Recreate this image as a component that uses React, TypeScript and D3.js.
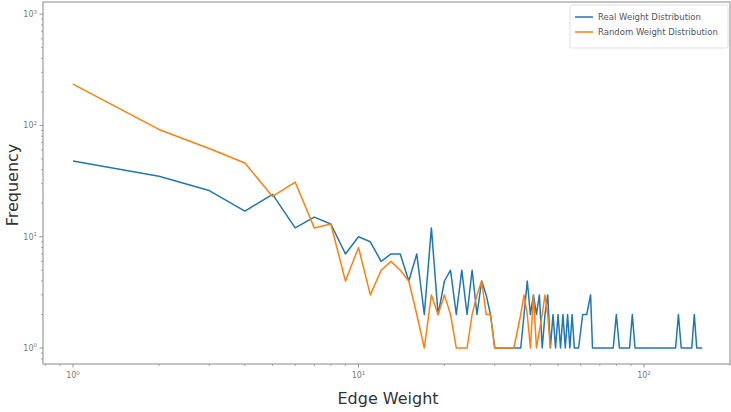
import React from "react";
import * as d3 from "d3";

// Edge weight -> frequency, observed network
const realWeights = [1, 2, 3, 4, 5, 6, 7, 8, 9, 10, 11, 12, 13, 14, 15, 16, 17, 18, 19, 20, 21, 22, 23, 24, 25, 26, 27, 28, 29, 30, 31, 33, 35, 37, 38, 39, 40, 41, 42, 43, 44, 45, 46, 47, 48, 49, 50, 51, 52, 53, 54, 55, 56, 57, 59, 61, 63, 65, 66, 70, 75, 78, 80, 82, 86, 89, 91, 93, 100, 110, 120, 129, 132, 135, 140, 147, 150, 153, 160];
const realCounts = [48, 35, 26, 17, 24, 12, 15, 13, 7, 10, 9, 6, 7, 7, 4, 7, 2, 12, 2, 4, 5, 2, 5, 2, 5, 2, 4, 3, 2, 1, 1, 1, 1, 1, 2, 4, 2, 3, 2, 3, 1, 2, 3, 1, 2, 1, 2, 1, 2, 1, 2, 1, 2, 1, 1, 2, 2, 3, 1, 1, 1, 1, 2, 1, 1, 1, 2, 1, 1, 1, 1, 1, 2, 1, 1, 1, 2, 1, 1];

// Edge weight -> frequency, randomised network
const randomWeights = [1, 2, 3, 4, 5, 6, 7, 8, 9, 10, 11, 12, 13, 14, 15, 16, 17, 18, 19, 20, 21, 22, 23, 24, 25, 26, 27, 28, 29, 30, 31, 33, 35, 37, 38, 39, 40, 41, 42, 44, 45, 46, 47];
const randomCounts = [235, 92, 62, 46, 23, 31, 12, 13, 4, 8, 3, 5, 6, 5, 4, 2, 1, 3, 2, 3, 2, 1, 1, 1, 2, 3, 4, 2, 2, 1, 1, 1, 1, 2, 3, 2, 1, 3, 1, 2, 3, 2, 1];

const seriesNames = ["Real Weight Distribution", "Random Weight Distribution"];
const seriesColors = ["#1f77b4", "#ff7f0e"];

const xMajorTicks = [1, 10, 100];
const yMajorTicks = [1, 10, 100, 1000];
const tickExponents = ["0", "1", "2", "3"];

const W = 731;
const H = 412;
const left = 43;
const right = 731;
const top = 2;
const bottom = 364;

const x = d3.scaleLog().domain([Math.pow(10, -0.1051), Math.pow(10, 2.3047)]).range([left, right]);
const y = d3.scaleLog().domain([Math.pow(10, -0.1438), Math.pow(10, 3.109)]).range([bottom, top]);

function minorTicks(scale: d3.ScaleLogarithmic<number, number>) {
  const [a, b] = scale.domain();
  const out: number[] = [];
  for (let e = -1; e <= 3; e++) {
    for (let m = 2; m <= 9; m++) {
      const v = m * Math.pow(10, e);
      if (v >= a && v <= b) out.push(v);
    }
  }
  return out;
}

const line = d3
  .line<[number, number]>()
  .x((d) => x(d[0]))
  .y((d) => y(d[1]));

const series = [
  d3.zip(realWeights, realCounts) as [number, number][],
  d3.zip(randomWeights, randomCounts) as [number, number][],
];

const spine = "#b0b0b0";
const tickColor = "#888";
const font = "DejaVu Sans, sans-serif";

function Pow({ exp, ...rest }: { exp: string } & React.SVGProps<SVGTextElement>) {
  return (
    <text {...rest} fontFamily={font} fontSize={8} fill="#777">
      10
      <tspan dy={-3.5} fontSize={5.5}>
        {exp}
      </tspan>
    </text>
  );
}

export default function App() {
  return (
    <svg
      width={W}
      height={H}
      style={{ position: "absolute", left: 0, top: 0, background: "#fff" }}
    >
      <rect x={0} y={0} width={W} height={H} fill="#fff" />

      {/* data lines */}
      <g clipPath="url(#plotClip)">
        {series.map((s, i) => (
          <path
            key={i}
            d={line(s) || ""}
            fill="none"
            stroke={seriesColors[i]}
            strokeWidth={1.5}
            strokeLinejoin="round"
          />
        ))}
      </g>
      <defs>
        <clipPath id="plotClip">
          <rect x={left} y={top} width={right - left} height={bottom - top} />
        </clipPath>
      </defs>

      {/* spines */}
      <rect
        x={left}
        y={top}
        width={right - left - 1}
        height={bottom - top}
        fill="none"
        stroke={spine}
        strokeWidth={1.5}
      />

      {/* x ticks */}
      {minorTicks(x).map((v) => (
        <line key={"xm" + v} x1={x(v)} x2={x(v)} y1={bottom} y2={bottom + 2} stroke={tickColor} strokeWidth={0.7} />
      ))}
      {xMajorTicks.map((v, i) => (
        <g key={"xM" + v}>
          <line x1={x(v)} x2={x(v)} y1={bottom} y2={bottom + 3.5} stroke={tickColor} strokeWidth={0.9} />
          <Pow exp={tickExponents[i]} x={x(v)} y={bottom + 14} textAnchor="middle" />
        </g>
      ))}

      {/* y ticks */}
      {minorTicks(y).map((v) => (
        <line key={"ym" + v} x1={left - 2} x2={left} y1={y(v)} y2={y(v)} stroke={tickColor} strokeWidth={0.7} />
      ))}
      {yMajorTicks.map((v, i) => (
        <g key={"yM" + v}>
          <line x1={left - 3.5} x2={left} y1={y(v)} y2={y(v)} stroke={tickColor} strokeWidth={0.9} />
          <Pow exp={tickExponents[i]} x={left - 6} y={y(v) + 3} textAnchor="end" />
        </g>
      ))}

      {/* axis titles */}
      <text x={388} y={404} textAnchor="middle" fontFamily={font} fontSize={16} fill="#333">
        Edge Weight
      </text>
      <text
        transform={`translate(${18},${185}) rotate(-90)`}
        textAnchor="middle"
        fontFamily={font}
        fontSize={16}
        fill="#333"
      >
        Frequency
      </text>

      {/* legend */}
      <g>
        <rect x={570} y={5} width={158} height={43} fill="#fff" stroke="#e0e0e0" strokeWidth={1} rx={2} />
        {seriesNames.map((name, i) => (
          <g key={name} transform={`translate(0,${17 + i * 15})`}>
            <line x1={575} x2={593} y1={0} y2={0} stroke={seriesColors[i]} strokeWidth={1.5} />
            <text x={598} y={3} fontFamily={font} fontSize={8.5} fill="#555">
              {name}
            </text>
          </g>
        ))}
      </g>
    </svg>
  );
}
